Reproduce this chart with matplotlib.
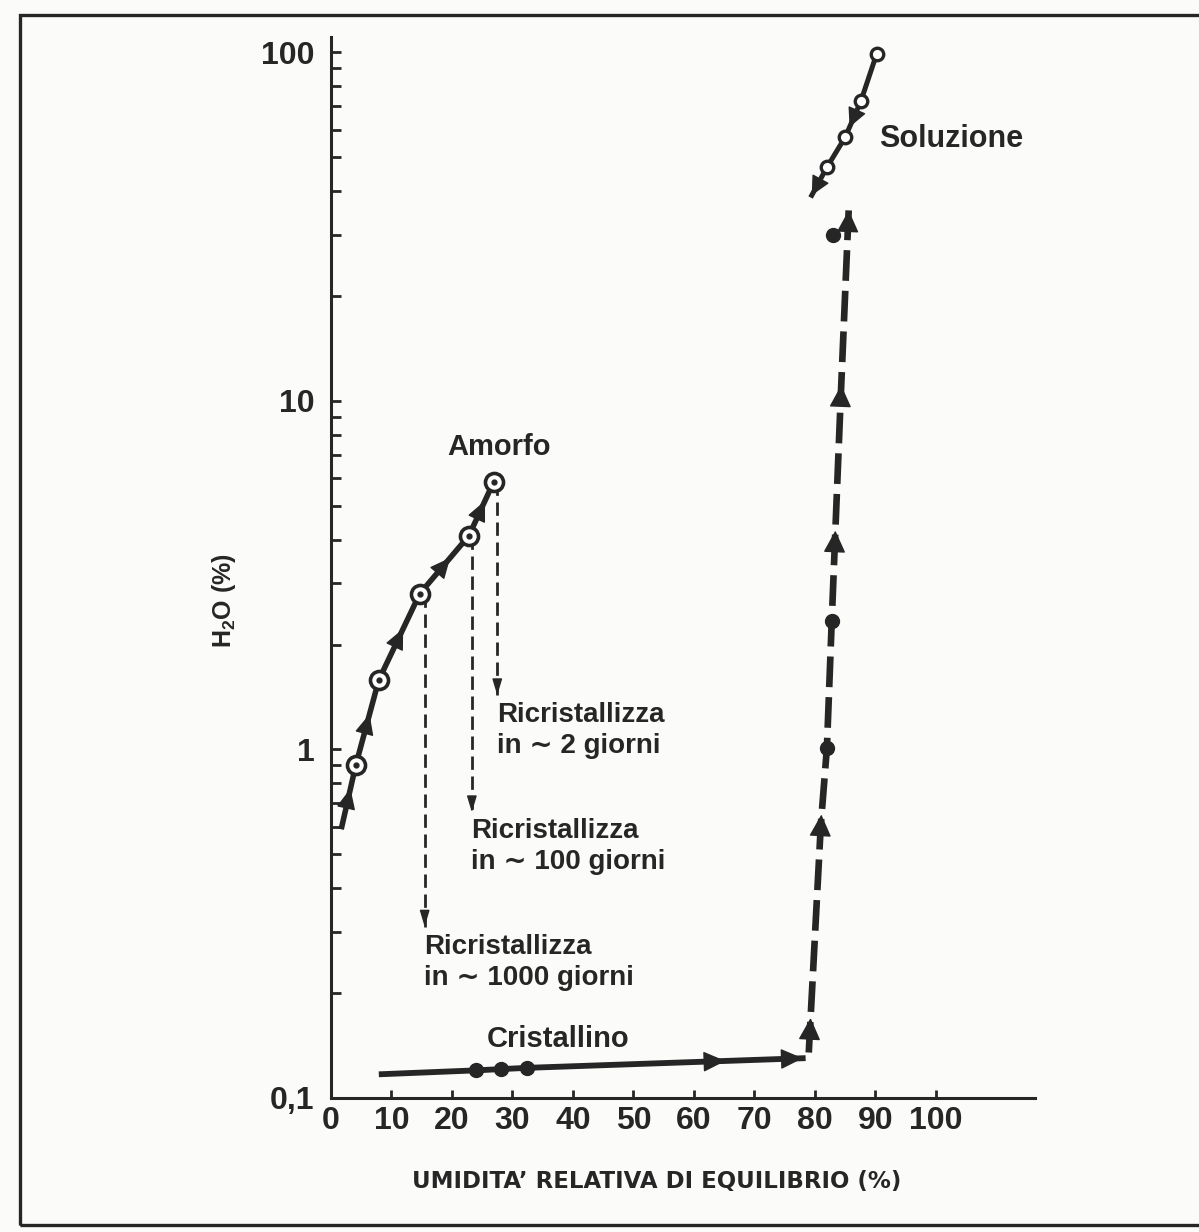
import numpy as np
import matplotlib
matplotlib.use('Agg')
import matplotlib.pyplot as plt
from matplotlib.patches import Rectangle
from matplotlib.ticker import LogLocator, NullFormatter

ink = '#262626'
plt.rcParams['font.family'] = ['Liberation Sans', 'DejaVu Sans']
plt.rcParams['font.weight'] = 'bold'
plt.rcParams['axes.labelweight'] = 'bold'
plt.rcParams['mathtext.fontset'] = 'custom'
plt.rcParams['mathtext.rm'] = 'Liberation Sans:bold'
plt.rcParams['mathtext.bf'] = 'Liberation Sans:bold'

#Amorphous branch (sorption, open circles)
am_x = [1.7, 4.1, 7.9, 14.7, 22.8, 26.9]
am_y = [0.59, 0.90, 1.58, 2.80, 4.10, 5.85]

#Recrystallisation drops from the amorphous points
drop_x = [27.5, 23.3, 15.5]
drop_from = [5.85, 4.10, 2.80]
drop_to = [1.43, 0.66, 0.31]
drop_lbl = ['Ricristallizza\nin \u223c 2 giorni',
            'Ricristallizza\nin \u223c 100 giorni',
            'Ricristallizza\nin \u223c 1000 giorni']

#Crystalline branch
cr_x = [8.4, 24.0, 28.1, 32.4, 78.0]
cr_y = [0.117, 0.120, 0.121, 0.122, 0.130]
cr_arrow_x = [63.6]

#Deliquescence jump (dashed)
up_x = [79.0, 81.0, 82.0, 82.8, 84.3, 85.6]
up_y = [0.135, 0.61, 1.01, 2.34, 10.4, 35.2]
up_dot_x = [82.0, 82.8, 83.0]
up_dot_y = [1.01, 2.34, 30.0]
up_arrow_y = [0.159, 0.61, 3.98, 10.4]

#Solution branch (desorption)
sol_x = [90.2, 87.6, 85.0, 82.0, 79.5]
sol_y = [98.7, 72.3, 57.0, 46.8, 38.9]

xticks = list(range(0, 101, 10))
yticks = [0.1, 1, 10, 100]
ylabels = ['0,1', '1', '10', '100']

fig = plt.figure(figsize=(11.99, 12.32), dpi=100)
fig.patch.set_facecolor('#fbfbf9')
ax = fig.add_axes([0.276, 0.1088, 0.5872, 0.8612])
ax.set_facecolor('none')
ax.set_yscale('log')
ax.set_xlim(0, 116.4)
ax.set_ylim(0.1, 110.7)

#frame round the figure
fig.patches.append(Rectangle((0.0167, 0.0057), 1.0, 0.9821, transform=fig.transFigure,
                             fill=False, lw=2.4, ec=ink, clip_on=False))

for s in ['top', 'right']:
    ax.spines[s].set_visible(False)
for s in ['left', 'bottom']:
    ax.spines[s].set_linewidth(2.2)
    ax.spines[s].set_color(ink)

ax.set_xticks(xticks)
ax.set_xticklabels([str(t) for t in xticks])
ax.set_yticks(yticks)
ax.set_yticklabels(ylabels)
ax.yaxis.set_minor_locator(LogLocator(base=10, subs=np.arange(2, 10)))
ax.yaxis.set_minor_formatter(NullFormatter())
ax.tick_params(axis='both', which='both', direction='in', colors=ink, width=2.0, labelsize=23)
ax.tick_params(axis='y', which='both', length=7, pad=12)
ax.tick_params(axis='x', which='major', length=6, pad=6)

ax.set_ylabel(r'H$_2$O (%)', fontsize=18, color=ink)
ax.yaxis.set_label_coords(-0.132, 0.469)
ax.set_xlabel('UMIDITA\u2019 RELATIVA DI EQUILIBRIO (%)', fontsize=16.5, color=ink,
              family=['DejaVu Sans'])
ax.xaxis.set_label_coords(0.462, -0.068)


def head(p_from, p_to, at=None, hl=11.5, hw=5.0):
    # filled arrowhead pointing along p_from -> p_to, centred on 'at' or tip on p_to
    a, b = ax.transData.transform([p_from, p_to])
    u = (b - a) / np.hypot(*(b - a))
    if at is None:
        tip = b
    else:
        tip = ax.transData.transform(at) + u * hl * fig.dpi / 72 / 2
    tip = ax.transData.inverted().transform(tip)
    ax.annotate('', xy=tip, xytext=(-u[0] * hl, -u[1] * hl), textcoords='offset points',
                arrowprops=dict(arrowstyle=f'-|>,head_length={hl / 10},head_width={hw / 10}',
                                mutation_scale=10, color=ink, lw=1, shrinkA=0, shrinkB=0),
                zorder=3)


def logmid(x0, y0, x1, y1):
    return (x0 + x1) / 2, np.sqrt(y0 * y1)


#Amorfo
ax.plot(am_x, am_y, '-', color=ink, lw=4.0, solid_capstyle='butt', zorder=2)
for i in range(len(am_x) - 1):
    p0, p1 = (am_x[i], am_y[i]), (am_x[i + 1], am_y[i + 1])
    head(p0, p1, at=logmid(*p0, *p1), hl=13, hw=6)
ax.plot(am_x[1:], am_y[1:], 'o', ms=13, mfc='white', mec=ink, mew=2.6, zorder=5)
ax.plot(am_x[1:], am_y[1:], 'o', ms=3.5, color=ink, zorder=6)
ax.text(27.8, 7.0, 'Amorfo', fontsize=21, color=ink, ha='center', va='baseline')

#drops
lbl_x = [27.4, 23.1, 15.4]
lbl_y = [1.37, 0.634, 0.296]
for xd, y0, y1, lx, ly, t in zip(drop_x, drop_from, drop_to, lbl_x, lbl_y, drop_lbl):
    ax.plot([xd, xd], [y0, y1], color=ink, lw=2.0, dashes=(4.8, 2.4), zorder=2)
    head((xd, y0), (xd, y1), hl=10, hw=3.0)
    ax.text(lx, ly, t, fontsize=20, color=ink, ha='left', va='top', linespacing=1.25)

#Cristallino
ax.plot(cr_x, cr_y, '-', color=ink, lw=4.2, zorder=2)
for xa in cr_arrow_x:
    ya = 10 ** np.interp(xa, cr_x, np.log10(cr_y))
    head((cr_x[-2], cr_y[-2]), (cr_x[-1], cr_y[-1]), at=(xa, ya), hl=14, hw=6.5)
head((cr_x[-2], cr_y[-2]), (cr_x[-1], cr_y[-1]), hl=14, hw=6.5)
ax.plot(cr_x[1:4], cr_y[1:4], 'o', ms=10, color=ink, zorder=5)
ax.text(25.8, 0.1396, 'Cristallino', fontsize=21, color=ink, ha='left', va='baseline')

#jump into solution
ax.plot(up_x, up_y, color=ink, lw=4.8, dashes=(4.6, 1.5), zorder=2)
for ya in up_arrow_y:
    xa = np.interp(np.log10(ya), np.log10(up_y), up_x)
    k = np.searchsorted(up_y, ya)
    k = min(max(k, 1), len(up_y) - 1)
    head((up_x[k - 1], up_y[k - 1]), (up_x[k], up_y[k]), at=(xa, ya), hl=14, hw=7)
head((up_x[-2], up_y[-2]), (up_x[-1], up_y[-1]), hl=14, hw=7)
ax.plot(up_dot_x, up_dot_y, 'o', ms=10, color=ink, zorder=5)

#Soluzione
ax.plot(sol_x, sol_y, '-', color=ink, lw=3.6, zorder=2)
head((sol_x[1], sol_y[1]), (sol_x[2], sol_y[2]), at=logmid(sol_x[1], sol_y[1], sol_x[2], sol_y[2]),
     hl=12, hw=6)
head((sol_x[-2], sol_y[-2]), (sol_x[-1], sol_y[-1]), hl=12, hw=6)
ax.plot(sol_x[:4], sol_y[:4], 'o', ms=9, mfc='white', mec=ink, mew=2.4, zorder=5)
ax.text(90.6, 53.4, 'Soluzione', fontsize=22, color=ink, ha='left', va='baseline')

plt.savefig('out.png', dpi=100, facecolor=fig.get_facecolor())
